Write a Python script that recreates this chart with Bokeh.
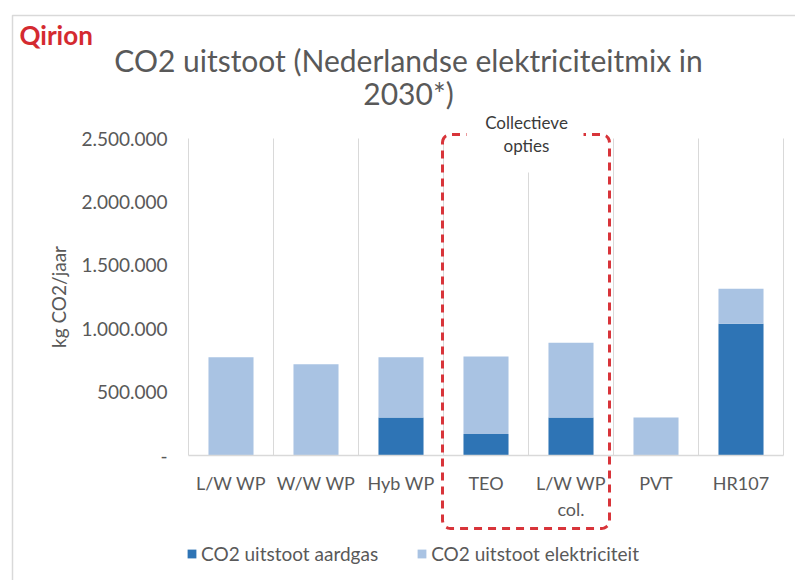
import numpy as np
from bokeh.plotting import figure
from bokeh.models import (ColumnDataSource, Range1d, FixedTicker, Label, BoxAnnotation,
                          PolyAnnotation)
from bokeh.embed import file_html
from bokeh.resources import INLINE

# --- data -------------------------------------------------------------
categories = ["L/W WP", "W/W WP", "Hyb WP", "TEO", "L/W WP col.", "PVT", "HR107"]
aardgas = [0, 0, 300000, 170000, 300000, 0, 1040000]
elektriciteit = [775000, 720000, 475000, 610000, 590000, 300000, 275000]
series_labels = ["CO2 uitstoot aardgas", "CO2 uitstoot elektriciteit"]
y_ticks = [0, 500000, 1000000, 1500000, 2000000, 2500000]
y_tick_labels = ["-", "500.000", "1.000.000", "1.500.000", "2.000.000", "2.500.000"]
collective = ["TEO", "L/W WP col."]

# --- style ------------------------------------------------------------
FONT = "Lato"
DARK = "#2E74B5"
LIGHT = "#A9C3E3"
GRID = "#D9D9D9"
TXT = "#595959"
RED = "#D8343A"

W, H = 795, 580
# plot area on the canvas (px): left, right, top (y max), bottom (y = 0)
PL, PR, PT, PB = 188, 783, 138, 455
YMAX = y_ticks[-1]
n = len(categories)
ux = (PR - PL) / n          # px per category slot
uy = (PB - PT) / YMAX       # px per kg

# the frame covers the whole canvas; axes sit at fixed locations inside it
p = figure(width=W, height=H,
           x_range=Range1d(-PL / ux, (W - PL) / ux),
           y_range=Range1d(-(H - PB) / uy, PB / uy),
           output_backend="svg", toolbar_location=None,
           min_border_left=0, min_border_right=0, min_border_top=0, min_border_bottom=0)
p.outline_line_color = None
p.background_fill_color = "white"
p.border_fill_color = "white"
p.xgrid.visible = False
p.ygrid.visible = False

# frame-relative screen helpers (origin bottom-left)
def sx(px):
    return px
def sy(py):
    return H - py

# chart area frame
p.add_layout(BoxAnnotation(left=sx(12), right=sx(W + 10), top=sy(15), bottom=sy(H + 10),
                           left_units="screen", right_units="screen",
                           top_units="screen", bottom_units="screen",
                           fill_alpha=0, line_color=GRID, line_alpha=1, line_width=1.5,
                           level="underlay"))

xpos = [i + 0.5 for i in range(n)]
edges = list(range(n + 1))

# vertical separators between categories
p.segment(x0=edges, y0=[0] * len(edges), x1=edges, y1=[YMAX] * len(edges),
          line_color=GRID, line_width=1)

source = ColumnDataSource(dict(x=xpos, cat=categories, aardgas=aardgas,
                               elektriciteit=elektriciteit))
p.vbar_stack(["aardgas", "elektriciteit"], x="x", width=0.53, color=[DARK, LIGHT],
             line_color=None, source=source, legend_label=series_labels)

# axes
first_lines = [c.replace(" col.", "") for c in categories]
xa = p.xaxis[0]
xa.fixed_location = 0
xa.bounds = (0, n)
xa.ticker = FixedTicker(ticks=xpos)
xa.major_label_overrides = dict(zip(xpos, first_lines))
xa.axis_line_color = GRID
xa.axis_line_width = 1.5
xa.major_tick_line_color = None
xa.minor_tick_line_color = None
xa.major_label_standoff = 10
xa.major_label_text_font = FONT
xa.major_label_text_font_size = "18px"
xa.major_label_text_color = TXT

ya = p.yaxis[0]
ya.fixed_location = 0
ya.bounds = (0, YMAX)
ya.ticker = FixedTicker(ticks=y_ticks)
ya.major_label_overrides = dict(zip(y_ticks, y_tick_labels))
ya.axis_line_color = None
ya.major_tick_line_color = None
ya.minor_tick_line_color = None
ya.major_label_standoff = 15
ya.major_label_text_font = FONT
ya.major_label_text_font_size = "19px"
ya.major_label_text_color = TXT
ya.axis_label = "kg CO2/jaar"
ya.axis_label_standoff = 8
ya.axis_label_text_font = FONT
ya.axis_label_text_font_size = "19px"
ya.axis_label_text_font_style = "normal"
ya.axis_label_text_color = TXT

# wrapped second line of the collective heat pump label
k = categories.index("L/W WP col.")
p.add_layout(Label(x=xpos[k], y=sy(508), y_units="screen", text="col.",
                   text_align="center", text_baseline="middle", text_font=FONT,
                   text_font_size="18px", text_color=TXT))

# legend below the plot
lg = p.legend[0]
lg.orientation = "horizontal"
lg.location = (sx(186), sy(565))
lg.padding = 0
lg.margin = 0
lg.spacing = 38
lg.label_standoff = 4
lg.glyph_width = 11
lg.glyph_height = 11
lg.label_text_font = FONT
lg.label_text_font_size = "19px"
lg.label_text_color = TXT
lg.background_fill_alpha = 0
lg.border_line_alpha = 0

# dashed frame around the collective options (rounded rectangle)
i0 = categories.index(collective[0])
i1 = categories.index(collective[-1])
box_l, box_r = PL + i0 * ux - 1, PL + (i1 + 1) * ux - 4
box_t, box_b, rad = 134, 528, 8
def arc(cx, cy, a0, a1):
    t = np.linspace(np.radians(a0), np.radians(a1), 6)
    return list(cx + rad * np.cos(t)), list(cy - rad * np.sin(t))
px, py = [], []
for (cx, cy, a0, a1) in [(box_l + rad, box_t + rad, 180, 90), (box_r - rad, box_t + rad, 90, 0),
                         (box_r - rad, box_b - rad, 0, -90), (box_l + rad, box_b - rad, 270, 180)]:
    ax_, ay_ = arc(cx, cy, a0, a1)
    px += ax_
    py += ay_
p.add_layout(PolyAnnotation(xs=[sx(v) for v in px], ys=[sy(v) for v in py],
                            xs_units="screen", ys_units="screen",
                            fill_alpha=0, line_color=RED, line_alpha=1, line_width=3,
                            line_dash="8 6"))

# text box of the dashed frame
p.add_layout(BoxAnnotation(left=sx(466), right=sx(583), top=sy(108), bottom=sy(172),
                           left_units="screen", right_units="screen",
                           top_units="screen", bottom_units="screen",
                           fill_color="white", fill_alpha=1, line_alpha=0))
for txt, cy in [("Collectieve", 122), ("opties", 145)]:
    p.add_layout(Label(x=sx(526), y=sy(cy), x_units="screen", y_units="screen", text=txt,
                       text_align="center", text_baseline="middle", text_font=FONT,
                       text_font_size="17px", text_color="#3A3A3A"))

# titles
p.add_layout(Label(x=sx(19), y=sy(34), x_units="screen", y_units="screen", text="Qirion",
                   text_align="left", text_baseline="middle", text_font=FONT,
                   text_font_size="26px", text_font_style="bold", text_color="#D42A30"))
for txt, cy in [("CO2 uitstoot (Nederlandse elektriciteitmix in", 59), ("2030*)", 92)]:
    p.add_layout(Label(x=sx(408), y=sy(cy), x_units="screen", y_units="screen", text=txt,
                       text_align="center", text_baseline="middle", text_font=FONT,
                       text_font_size="30px", text_color=TXT))

open("out.html", "w").write(file_html(p, INLINE))
